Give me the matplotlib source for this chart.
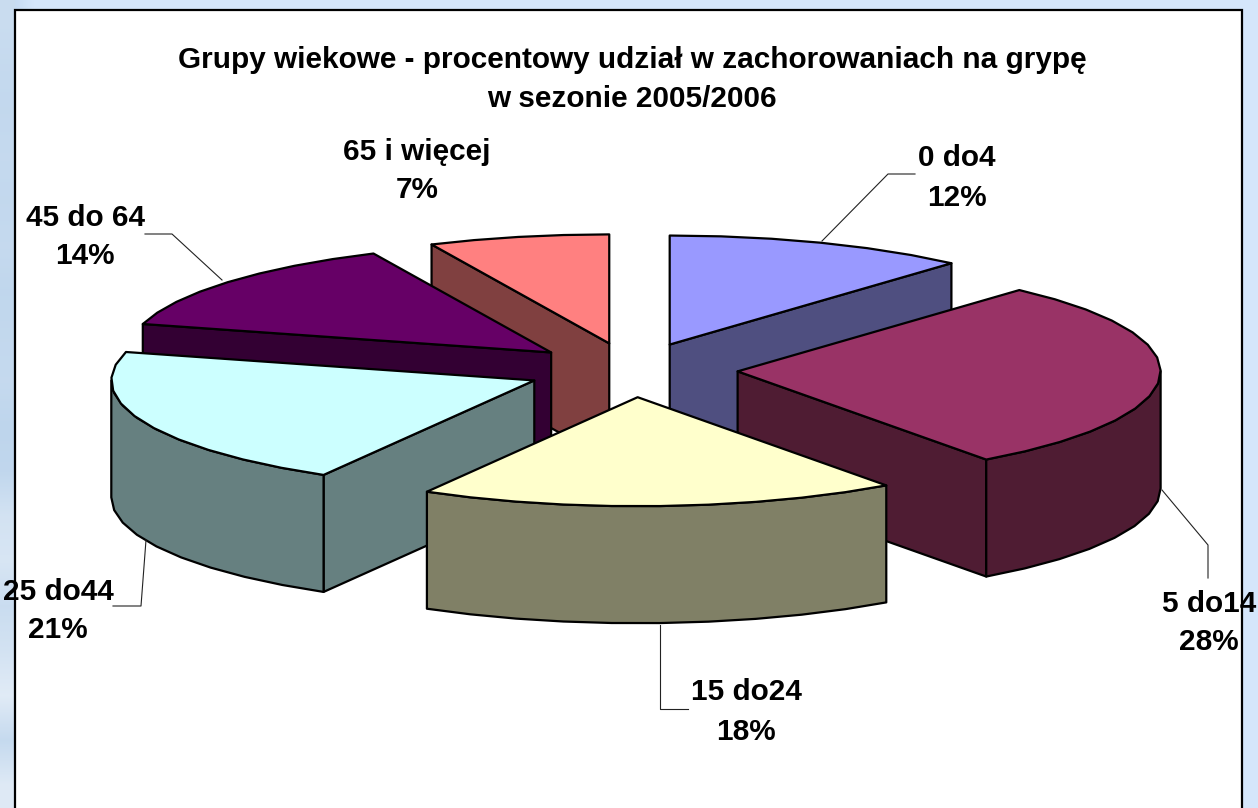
import numpy as np
import matplotlib
matplotlib.use("Agg")
import matplotlib.pyplot as plt
from matplotlib.patches import Polygon, Rectangle
from matplotlib.colors import LinearSegmentedColormap

# ---------- data ----------
categories = ["0 do4", "5 do14", "15 do24", "25 do44", "45 do 64", "65 i więcej"]
shares = [11.6, 28.4, 18.3, 20.9, 13.9, 6.9]
top_colors = ["#9999FF", "#993366", "#FFFFCC", "#CCFFFF", "#660066", "#FF8080"]
side_colors = ["#4F4F80", "#4F1C33", "#808066", "#668080", "#330033", "#804040"]
title_lines = ["Grupy wiekowe - procentowy udział w zachorowaniach na grypę", "w sezonie 2005/2006"]

# ---------- layout (in reference pixels) ----------
W, H = 1258, 808
CX, CY = 632, 370
RX, RY = 423, 109
DEPTH = 117
EXPLODE = 0.25
FONT = "Liberation Sans"
label_xy = [(957, 178), (1209, 623), (746, 712), (58, 611), (85, 237), (417, 171)]
leaders = [
    [(822, 241), (888, 174), (915, 174)],
    [(1162, 490), (1208, 545), (1208, 578)],
    [(660, 625), (660, 709), (688, 709)],
    [(146, 540), (141, 606), (113, 606)],
    [(222, 280), (172, 234), (145, 234)],
]

fig = plt.figure(figsize=(W / 100, H / 100), dpi=100, facecolor="#D5E6FB")
ax = fig.add_axes([0, 0, 1, 1])
ax.axis("off")

# background texture at the left side of the slide
bg = LinearSegmentedColormap.from_list("bg", ["#BCD4EC", "#D5E6FB"])
ax.imshow(np.linspace(0, 1, 40)[None, :], extent=(0, 34, 9, 0), cmap=bg, aspect="auto", zorder=0)
strip = [0.3, 0.2, 0.15, 0.2, 0.15, 0.2, 0.1, 0.15, 0.2, 0.05, 0.1, 0.5, 0.6, 0.3, 0.5, 0.8, 0.2, 0.75]
grey = LinearSegmentedColormap.from_list("s", ["#BCD4EC", "#EAF1F9"])
ax.imshow(np.array(strip)[:, None], extent=(0, 15, H, 0), cmap=grey, vmin=0, vmax=1,
          aspect="auto", zorder=0, interpolation="bilinear")
ax.set_xlim(0, W)
ax.set_ylim(H, 0)

ax.add_patch(Rectangle((15, 9.5), 1227, H, fc="white", ec="black", lw=1.6, zorder=1))


def arc(cx, cy, a0, a1):
    t = np.radians(np.linspace(a0, a1, max(2, int(abs(a1 - a0) / 7) + 2)))
    return np.column_stack([cx + RX * np.sin(t), cy - RY * np.cos(t)])


def poly(points, color, z):
    ax.add_patch(Polygon(points, closed=True, fc=color, ec="black", lw=1.6, joinstyle="round", zorder=z))


edges = np.concatenate([[0], np.cumsum(shares)]) / sum(shares) * 360
z = 2
for i in [5, 0, 4, 1, 3, 2]:  # back to front
    a0, a1 = edges[i], edges[i + 1]
    mid = np.radians((a0 + a1) / 2)
    ox = CX + EXPLODE * RX * np.sin(mid)
    oy = CY - EXPLODE * RY * np.cos(mid)
    apex = np.array([[ox, oy]])
    down = np.array([0, DEPTH])
    for ang, show in ((a0, np.sin(np.radians(a0)) < 0), (a1, np.sin(np.radians(a1)) > 0)):
        if show:
            p = arc(ox, oy, ang, ang)[:1]
            poly(np.vstack([apex, p, p + down, apex + down]), side_colors[i], z)
            z += 1
    f0, f1 = max(a0, 90), min(a1, 270)
    if f1 > f0:
        rim = arc(ox, oy, f0, f1)
        poly(np.vstack([rim, (rim + down)[::-1]]), side_colors[i], z)
        z += 1
    poly(np.vstack([apex, arc(ox, oy, a0, a1)]), top_colors[i], z)
    z += 1

for pts in leaders:
    xs, ys = zip(*pts)
    ax.plot(xs, ys, color="#222222", lw=0.8, zorder=z)

for (x, y), c, s in zip(label_xy, categories, shares):
    ax.text(x, y, f"{c}\n{round(s)}%", ha="center", va="center", family=FONT, weight="bold",
            fontsize=21.4, linespacing=1.5, zorder=z + 1)
ax.text(632, 79.5, "\n".join(title_lines), ha="center", va="center", family=FONT, weight="bold",
        fontsize=21.4, linespacing=1.54, zorder=z + 1)

fig.savefig("out.png", dpi=100, facecolor=fig.get_facecolor())
